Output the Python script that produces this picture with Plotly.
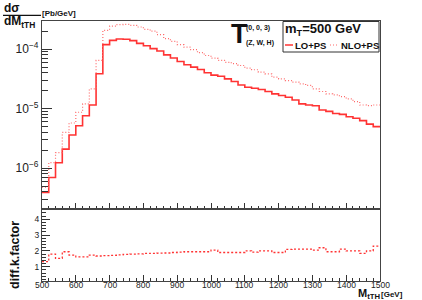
import plotly.graph_objects as go

# ---- data ----
bin_edges = list(range(500, 1520, 20))  # 50 bins of 20 GeV
lo_ps = [3.9e-7, 6.95e-7, 1.23e-6, 2.09e-6, 3.6e-6, 5.16e-6, 7.6e-6, 1.15e-5, 3.85e-5, 1.19e-4,
         1.40e-4, 1.48e-4, 1.46e-4, 1.39e-4, 1.25e-4, 1.14e-4, 1.02e-4, 9.3e-5, 8.0e-5, 7.1e-5,
         6.2e-5, 5.45e-5, 4.98e-5, 4.55e-5, 4.0e-5, 3.65e-5, 3.5e-5, 3.16e-5, 2.85e-5, 2.5e-5,
         2.29e-5, 2.2e-5, 2.09e-5, 1.94e-5, 1.77e-5, 1.66e-5, 1.55e-5, 1.40e-5, 1.2e-5, 1.15e-5,
         1.12e-5, 9.5e-6, 9.0e-6, 8.3e-6, 8.0e-6, 7.3e-6, 6.9e-6, 6.3e-6, 5.5e-6, 4.98e-6]
nlo_ps = [4.8e-7, 1.24e-6, 1.83e-6, 3.98e-6, 5.74e-6, 8.7e-6, 1.2e-5, 2.15e-5, 6.45e-5, 2.07e-4,
          2.44e-4, 2.58e-4, 2.6e-4, 2.51e-4, 2.35e-4, 2.15e-4, 2.0e-4, 1.75e-4, 1.5e-4, 1.35e-4,
          1.19e-4, 1.08e-4, 9.8e-5, 8.7e-5, 7.8e-5, 7.05e-5, 6.45e-5, 6.0e-5, 5.7e-5, 5.3e-5,
          4.8e-5, 4.5e-5, 4.1e-5, 3.85e-5, 3.37e-5, 3.17e-5, 2.96e-5, 2.78e-5, 2.6e-5, 2.45e-5,
          2.15e-5, 1.94e-5, 1.77e-5, 1.7e-5, 1.59e-5, 1.46e-5, 1.31e-5, 1.15e-5, 1.12e-5, 1.15e-5]
k_factor = [1.32, 1.80, 1.53, 1.95, 1.74, 1.63, 1.63, 1.74, 1.68, 1.70,
            1.72, 1.75, 1.78, 1.80, 1.82, 1.85, 1.84, 1.86, 1.87, 1.90,
            1.92, 1.95, 1.95, 1.95, 1.95, 2.05, 1.90, 1.90, 1.90, 1.90,
            2.00, 1.92, 2.00, 2.00, 1.90, 1.90, 2.10, 2.12, 2.12, 2.12,
            2.05, 2.20, 1.95, 1.95, 2.12, 2.00, 2.00, 1.85, 2.00, 2.31]
x_ticks = [500, 600, 700, 800, 900, 1000, 1100, 1200, 1300, 1400, 1500]
y_log_ticks = [1e-6, 1e-5, 1e-4]
y_log_ticktext = ["10<sup>−6</sup>", "10<sup>−5</sup>", "10<sup>−4</sup>"]
k_ticks = [1, 2, 3, 4]

def steps(vals):
    return bin_edges, list(vals) + [vals[-1]]

FONT = "Liberation Sans, Arial, sans-serif"
L, R, T, B = 42, 42, 21, 19
W, H = 422, 300
PW, PH = W - L - R, H - T - B

def px(x):
    return (x - L) / PW

def py(y):
    return (H - B - y) / PH

split = (281 - 209) / PH

fig = go.Figure()
x, y = steps(lo_ps)
fig.add_trace(go.Scatter(x=x, y=y, mode="lines", line=dict(color="#ff3333", width=1.6, shape="hv"),
                         xaxis="x", yaxis="y", showlegend=False))
x, y = steps(nlo_ps)
fig.add_trace(go.Scatter(x=x, y=y, mode="lines", line=dict(color="#ff6b6b", width=1.2, shape="hv", dash="1px,2px"),
                         xaxis="x", yaxis="y", showlegend=False))
x, y = steps(k_factor)
fig.add_trace(go.Scatter(x=x, y=y, mode="lines", line=dict(color="#ff3333", width=1.3, shape="hv", dash="2px,2px"),
                         xaxis="x2", yaxis="y2", showlegend=False))

minor_log = [m * 10 ** e for e in range(-7, -2) for m in range(2, 10)]

axis_common = dict(showline=True, linecolor="#444", linewidth=1.2, mirror=True, showgrid=False,
                   zeroline=False, ticks="inside", tickcolor="#333")

fig.update_layout(
    width=W, height=H, margin=dict(l=L, r=R, t=T, b=B),
    paper_bgcolor="white", plot_bgcolor="white",
    font=dict(family=FONT, color="#222"),
    xaxis=dict(axis_common, domain=[0, 1], anchor="y", range=[500, 1500], tickvals=x_ticks,
               showticklabels=False, ticklen=6,
               minor=dict(ticks="inside", dtick=20, ticklen=3, tickcolor="#333")),
    yaxis=dict(axis_common, domain=[split, 1], anchor="x", type="log", range=[-6.686, -3.528],
               tickvals=y_log_ticks, ticktext=y_log_ticktext, ticklen=10,
               tickfont=dict(size=12, family=FONT),
               minor=dict(ticks="inside", tickmode="array", tickvals=minor_log, ticklen=6, tickcolor="#333")),
    xaxis2=dict(axis_common, domain=[0, 1], anchor="y2", range=[500, 1500], tickvals=x_ticks,
                ticklen=6, showticklabels=False,
                minor=dict(ticks="inside", dtick=20, ticklen=3, tickcolor="#333")),
    yaxis2=dict(axis_common, domain=[0, split], anchor="x2", range=[0.1, 4.65], tickvals=k_ticks,
                ticklen=8, tickfont=dict(size=8.5, family=FONT),
                minor=dict(ticks="inside", dtick=0.2, ticklen=4, tickcolor="#333")),
)

ann = []
def text(t, x, y, size, xanchor="left", yanchor="middle", angle=0):
    ann.append(dict(text=t, x=px(x), y=py(y), xref="paper", yref="paper", showarrow=False,
                    xanchor=xanchor, yanchor=yanchor, textangle=angle,
                    font=dict(size=size, family=FONT, color="#111"), borderpad=0))

# x tick labels placed just under the lower pad (as in the reference)
for v in x_ticks:
    ann.append(dict(text=str(v), x=v, y=py(285), xref="x2", yref="paper", showarrow=False,
                    xanchor="center", yanchor="middle", borderpad=0,
                    font=dict(size=8.5, family=FONT, color="#222")))

# y title (fraction)
text("<b>dσ</b>", 12, 8, 12, xanchor="center")
text("<b>dM<sub>tTH</sub></b>", 3, 22, 12)
text("<b>[Pb/GeV]</b>", 41, 13.5, 8)
# T label
text("<b>T</b>", 230, 34, 27)
text("<b>(0, 0, 3)</b>", 245, 28, 7)
text("<b>(Z, W, H)</b>", 245, 43, 7)
# legend
text("<b>m<sub>T</sub>=500 GeV</b>", 284, 30, 13)
text("<b>LO+PS</b>", 294, 45, 9.5)
text("<b>NLO+PS</b>", 340, 45, 9.5)
# lower y title
text("<b>diff.k.factor</b>", 15, 255, 12.5, xanchor="center", angle=-90)
# x title
text("<b>M<sub>tTH</sub></b>", 357, 293.5, 11)
text("<b>[GeV]</b>", 380, 294.5, 8)
fig.update_layout(annotations=ann)

shapes = [
    dict(type="line", xref="paper", yref="paper", x0=px(3), x1=px(41), y0=py(15.3), y1=py(15.3),
         line=dict(color="#111", width=1.2)),
    dict(type="rect", xref="paper", yref="paper", x0=px(283), x1=px(379), y0=py(21.5), y1=py(52),
         line=dict(color="#333", width=1), fillcolor="white", layer="above"),
    dict(type="line", xref="paper", yref="paper", x0=px(285), x1=px(293), y0=py(45), y1=py(45),
         line=dict(color="#ff3333", width=1.5)),
    dict(type="line", xref="paper", yref="paper", x0=px(330), x1=px(339), y0=py(45), y1=py(45),
         line=dict(color="#ff6b6b", width=1.2, dash="1px,2px")),
]
fig.update_layout(shapes=shapes)

fig.write_html("out.html", config={"displayModeBar": False},
               post_script="document.body.style.margin='0';document.body.style.padding='0';")
